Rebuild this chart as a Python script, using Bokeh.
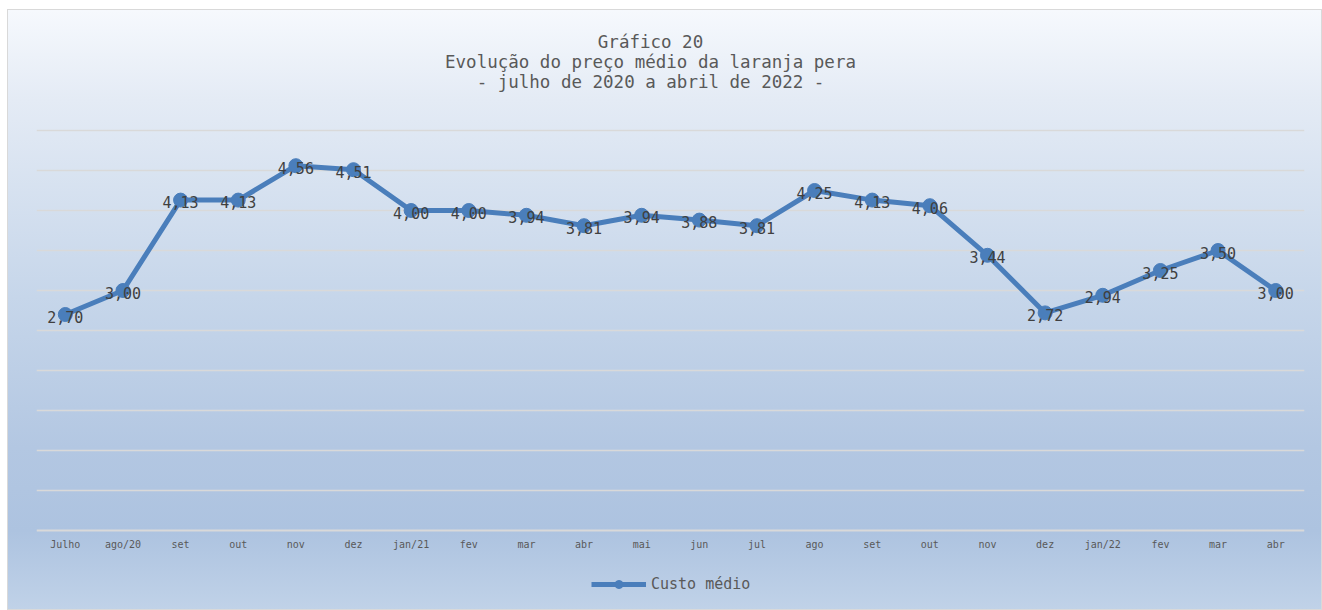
from bokeh.plotting import figure
from bokeh.models import (ColumnDataSource, Range1d, FixedTicker, Legend, LegendItem, Label)
from bokeh.core.properties import value
from bokeh.embed import file_html
from bokeh.resources import INLINE

months = ["Julho", "ago/20", "set", "out", "nov", "dez", "jan/21", "fev", "mar", "abr", "mai",
          "jun", "jul", "ago", "set", "out", "nov", "dez", "jan/22", "fev", "mar", "abr"]
custo_medio = [2.70, 3.00, 4.13, 4.13, 4.56, 4.51, 4.00, 4.00, 3.94, 3.81, 3.94,
               3.88, 3.81, 4.25, 4.13, 4.06, 3.44, 2.72, 2.94, 3.25, 3.50, 3.00]
title_lines = ["Gráfico 20", "Evolução do preço médio da laranja pera", "- julho de 2020 a abril de 2022 -"]
series_name = "Custo médio"

FONT = "DejaVu Sans Mono"
LINE_COLOR = "#4A7EBB"
GRID = "#D9D9D9"

W, H = 1315, 601
PX_PER_UNIT = 80.0
ZERO_PX = 520            # pixel row (from figure top) of value 0
Y_TOP = ZERO_PX / PX_PER_UNIT
Y_BOT = -(H - ZERO_PX) / PX_PER_UNIT

xs = list(range(len(months)))
labels = [f"{v:.2f}".replace(".", ",") for v in custo_medio]
src = ColumnDataSource(dict(x=xs, y=custo_medio, lab=labels))

p = figure(width=W, height=H, output_backend="svg", toolbar_location=None,
           x_range=Range1d(-0.5, len(months) - 0.5), y_range=Range1d(Y_BOT, Y_TOP),
           min_border_left=28, min_border_right=19, min_border_top=0, min_border_bottom=0)
p.title = None
p.background_fill_alpha = 0
p.border_fill_alpha = 0
p.outline_line_color = None
p.styles = {"background": "linear-gradient(180deg, #F6F9FD 0%, #E4EBF5 15%, #C6D6EA 48%, #B3C7E2 73%, #ADC3E0 87%, #C0D2E8 100%)",
            "border": "1px solid #D9D9D9", "box-sizing": "border-box",
            "margin-left": "7px", "margin-top": "9px"}

p.yaxis.visible = False
p.ygrid.ticker = FixedTicker(ticks=[0.5 * i for i in range(1, 11)])
p.ygrid.grid_line_color = GRID
p.ygrid.grid_line_width = 1.5
p.xgrid.grid_line_color = None

p.xaxis.fixed_location = 0
p.xaxis.ticker = FixedTicker(ticks=xs)
p.xaxis.major_label_overrides = {i: m for i, m in enumerate(months)}
p.xaxis.axis_line_color = GRID
p.xaxis.axis_line_width = 2
p.xaxis.major_tick_line_color = None
p.xaxis.minor_tick_line_color = None
p.xaxis.major_label_text_font = FONT
p.xaxis.major_label_text_font_size = "10px"
p.xaxis.major_label_text_color = "#595959"
p.xaxis.major_label_standoff = 2

ln = p.line("x", "y", source=src, line_color=LINE_COLOR, line_width=5)
sc = p.scatter("x", "y", source=src, size=14, fill_color=LINE_COLOR, line_color=LINE_COLOR)
p.text("x", "y", text="lab", source=src, text_font=value(FONT), text_font_size="15px",
       text_color="#404040", text_align="center", text_baseline="middle", y_offset=2)

# title lines (pixel rows from figure top)
title_rows = [31, 51, 71]
x_mid = (len(months) - 1) / 2
for line, row in zip(title_lines, title_rows):
    p.add_layout(Label(x=x_mid, y=Y_TOP - row / PX_PER_UNIT, x_offset=-20, text=line,
                       text_font=FONT, text_font_size="17.5px", text_color="#595959",
                       text_align="center", text_baseline="middle"))

legend = Legend(items=[LegendItem(label=series_name, renderers=[ln, sc])],
                location=(555, 17), glyph_width=55, glyph_height=20,
                padding=0, margin=0, label_standoff=5, label_text_font=FONT,
                label_text_font_size="15px", label_text_color="#595959",
                background_fill_alpha=0, border_line_color=None)
p.add_layout(legend, "center")

open("out.html", "w").write(file_html(p, INLINE))
